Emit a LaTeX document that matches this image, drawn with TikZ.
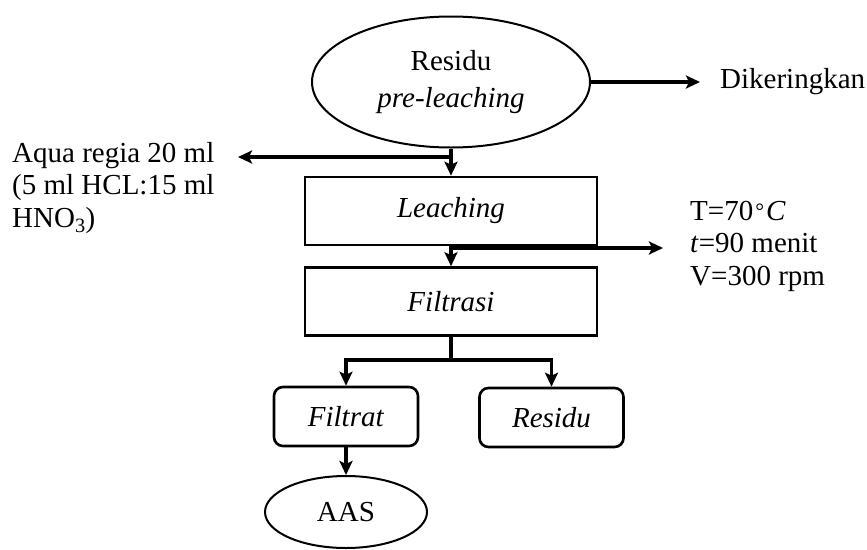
\documentclass[tikz,border=0pt]{standalone}
\usepackage{fontspec}
\setmainfont{Liberation Serif}
\usetikzlibrary{shapes.geometric,arrows.meta}
\begin{document}
\begin{tikzpicture}[x=1pt,y=-1pt,
 every node/.style={font=\fontsize{29}{32.5}\selectfont},
 procbox/.style={draw,line width=2.6pt,minimum width=292pt,minimum height=68pt,inner sep=0pt},
 roundbox/.style={draw,line width=2.6pt,rounded corners=9pt,minimum width=144pt,minimum height=59pt,inner sep=0pt},
 oval/.style={draw,ellipse,line width=2pt,inner sep=0pt},
 conn/.style={line width=3.3pt},
 arr/.style={conn,-{Stealth[length=14pt,width=13pt,inset=3pt]}},
 sidetext/.style={align=left,anchor=west,inner sep=0pt}
]
\useasboundingbox (0,0) rectangle (867,549);
\node[oval,minimum width=278pt,minimum height=131pt,align=center] (res) at (451,82) {Residu\\[4pt]\textit{pre-leaching}};
\node[procbox] (leach) at (451,211) {\textit{Leaching}};
\node[procbox] (filt) at (451,301.5) {\textit{Filtrasi}};
\node[roundbox] (ftr) at (346,416.5) {\textit{Filtrat}};
\node[roundbox] (rsd) at (551.5,417.5) {\textit{Residu}};
\node[oval,minimum width=162pt,minimum height=72pt] (aas) at (346,512) {AAS};

\node[sidetext] (dk) at (720,82) {Dikeringkan};
\node[sidetext] (aq) at (12,188) {Aqua regia 20 ml\\(5 ml HCL:15 ml\\HNO\textsubscript{3})};
\node[sidetext] (cond) at (690,246) {T=70\kern2pt\raisebox{2pt}{\fontsize{22}{22}\selectfont °}\kern2pt\textit{C}\\\textit{t}=90 menit\\V=300 rpm};

\coordinate (dkend) at (700,82);
\coordinate (aqstart) at (451,157);
\coordinate (aqend) at (238,157);
\coordinate (cstart) at (451,248);
\coordinate (cend) at (663,248);
\coordinate (br) at (451,360);

\draw[arr] (res.east) -- (dkend);
\draw[arr] (res.south) -- (leach.north);
\draw[arr] (aqstart) -- (aqend);
\draw[arr] (leach.south) -- (filt.north);
\draw[arr] (cstart) -- (cend);
\draw[conn] (filt.south) -- (br);
\draw[arr] (br) -| (ftr.north);
\draw[arr] (br) -| (rsd.north);
\draw[arr] (ftr.south) -- (aas.north);
\end{tikzpicture}
\end{document}
